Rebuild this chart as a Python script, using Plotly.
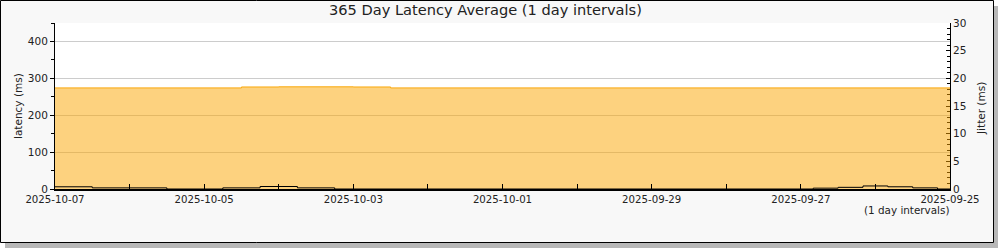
import plotly.graph_objects as go

# ---- data ----
latency_times = ["2025-10-07 00:00", "2025-10-04 12:00", "2025-10-04 00:00",
                 "2025-10-03 00:00", "2025-10-02 12:00", "2025-09-25 00:00"]
latency_values = [274.0, 276.6, 277.0, 276.6, 274.0, 274.0]

jitter_times = ["2025-10-07 00:00", "2025-10-06 12:00", "2025-10-05 12:00",
                "2025-10-04 18:00", "2025-10-04 06:00", "2025-10-03 18:00",
                "2025-10-03 06:00", "2025-09-26 20:00", "2025-09-26 12:00",
                "2025-09-26 04:00", "2025-09-25 20:00", "2025-09-25 12:00",
                "2025-09-25 04:00", "2025-09-25 00:00"]
jitter_values = [0.4, 0.2, 0.0, 0.2, 0.45, 0.2, 0.0, 0.15, 0.3, 0.55, 0.4, 0.2, 0.0, 0.0]

title_text = "365 Day Latency Average (1 day intervals)"
interval_text = "(1 day intervals)"
left_title = "latency (ms)"
right_title = "Jitter (ms)"

# ---- layout geometry (pixels) ----
W, H = 1000, 250
L, R, T, B = 55, 50, 23, 61
PW = W - L - R
PH = H - T - B


def px_x(px):
    return (px - L) / PW


def px_y(py):
    return (H - B - py) / PH


FONT = "DejaVu Sans"
TXT = "#222"

fig = go.Figure()

fig.add_trace(go.Scatter(
    x=latency_times, y=latency_values, mode="lines", line_shape="hv",
    fill="tozeroy", fillcolor="rgba(252,165,0,0.5)",
    line=dict(color="rgb(250,168,10)", width=1),
    yaxis="y", hoverinfo="skip", showlegend=False,
))
fig.add_trace(go.Scatter(
    x=jitter_times, y=jitter_values, mode="lines", line_shape="hv",
    line=dict(color="black", width=1),
    yaxis="y2", hoverinfo="skip", showlegend=False,
))

shapes = [
    # shadow
    dict(type="rect", xref="paper", yref="paper", layer="below",
         x0=px_x(5), x1=px_x(998), y0=px_y(6), y1=px_y(248),
         fillcolor="#b8b8b8", line=dict(width=0)),
    # frame
    dict(type="rect", xref="paper", yref="paper", layer="below",
         x0=px_x(0.5), x1=px_x(993.5), y0=px_y(0.5), y1=px_y(242.5),
         fillcolor="#f8f8f8", line=dict(color="black", width=1)),
    # plot area
    dict(type="rect", xref="paper", yref="paper", layer="below",
         x0=0, x1=1, y0=0, y1=1, fillcolor="white", line=dict(width=0)),
]

annotations = [
    dict(text=title_text, xref="paper", yref="paper", x=px_x(485), y=px_y(10),
         showarrow=False, font=dict(family=FONT, size=14.6, color=TXT),
         xanchor="center", yanchor="middle"),
    dict(text=interval_text, xref="paper", yref="paper", x=px_x(906), y=px_y(209.5),
         showarrow=False, font=dict(family=FONT, size=10.4, color=TXT),
         xanchor="center", yanchor="middle"),
    dict(text=left_title, xref="paper", yref="paper", x=px_x(18), y=px_y(106),
         showarrow=False, textangle=-90, font=dict(family=FONT, size=10.5, color=TXT),
         xanchor="center", yanchor="middle"),
    dict(text=right_title, xref="paper", yref="paper", x=px_x(981), y=px_y(108),
         showarrow=False, textangle=-90, font=dict(family=FONT, size=10.5, color=TXT),
         xanchor="center", yanchor="middle"),
]

fig.update_layout(
    width=W, height=H,
    margin=dict(l=L, r=R, t=T, b=B, pad=0),
    paper_bgcolor="white", plot_bgcolor="white",
    font=dict(family=FONT, size=10.5, color=TXT),
    shapes=shapes, annotations=annotations,
    xaxis=dict(
        type="date", range=["2025-10-07", "2025-09-25"],
        tick0="2025-09-25", dtick=2 * 86400000, tickformat="%Y-%m-%d",
        ticks="inside", ticklen=5, tickcolor="black", tickwidth=1,
        minor=dict(dtick=86400000, ticks="inside", ticklen=5, tickcolor="black", showgrid=False),
        showgrid=False, showline=True, linecolor="black", linewidth=2,
        zeroline=False, fixedrange=True, tickfont=dict(family=FONT, size=10.2, color=TXT),
    ),
    yaxis=dict(
        range=[0, 450], dtick=100, tick0=0,
        ticks="outside", ticklen=4, tickcolor="black",
        minor=dict(dtick=50, ticks="outside", ticklen=3, tickcolor="black", showgrid=False),
        showgrid=True, gridcolor="#cccccc", gridwidth=1,
        showline=True, linecolor="black", linewidth=1, zeroline=False,
        tickfont=dict(family=FONT, size=10.5, color=TXT),
    ),
    yaxis2=dict(
        overlaying="y", side="right", range=[0, 30], dtick=5, tick0=0,
        ticks="inside", ticklen=4, tickcolor="black",
        minor=dict(dtick=1, ticks="inside", ticklen=3, tickcolor="black", showgrid=False),
        showgrid=False, showline=True, linecolor="black", linewidth=1, zeroline=False,
        layer="below traces",
        tickfont=dict(family=FONT, size=10.5, color=TXT),
    ),
)

fig.write_html("out.html", config=dict(displayModeBar=False))
